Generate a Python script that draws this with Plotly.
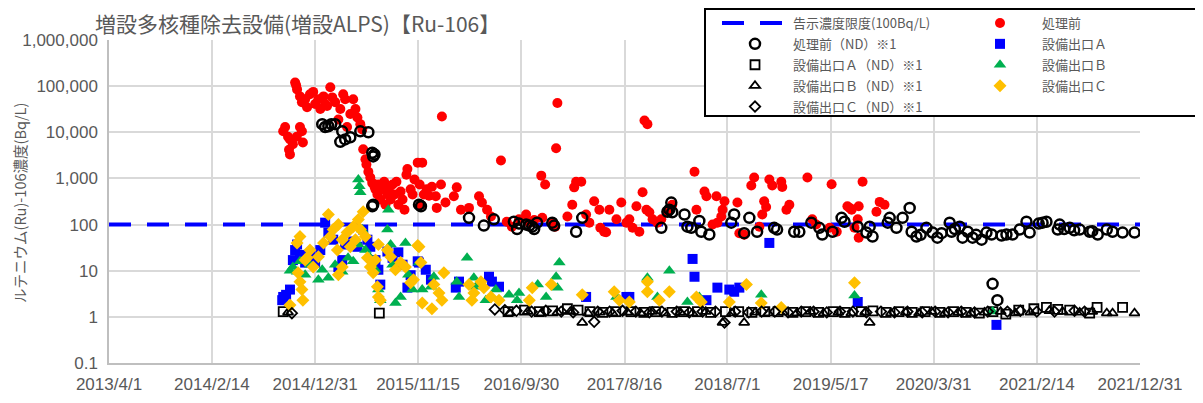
import plotly.graph_objects as go

# ---------------- axes / reference values ----------------
x_range = ["2013-04-01", "2021-12-31"]
x_tick_vals = ["2013-04-01", "2014-02-14", "2014-12-31", "2015-11-15", "2016-09-30", "2017-08-16",
               "2018-07-01", "2019-05-17", "2020-03-31", "2021-02-14", "2021-12-31"]
x_tick_text = ["2013/4/1", "2014/2/14", "2014/12/31", "2015/11/15", "2016/9/30", "2017/8/16",
               "2018/7/1", "2019/5/17", "2020/3/31", "2021/2/14", "2021/12/31"]
y_tick_vals = [0.1, 1, 10, 100, 1000, 10000, 100000, 1000000]
y_tick_text = ["0.1", "1", "10", "100", "1,000", "10,000", "100,000", "1,000,000"]

limit_dates = ["2013-04-01", "2021-12-31"]
limit_vals = [100, 100]

# ---------------- 処理前 (detected) ----------------
pre_dates = [
    "2014-09-23", "2014-09-29", "2014-10-08", "2014-10-14", "2014-10-11", "2014-10-14", "2014-10-23", "2014-11-04", "2014-11-20", "2014-11-23",
    "2014-11-14", "2014-10-30", "2014-11-02", "2014-11-05", "2014-11-14", "2014-11-20", "2014-11-30", "2014-12-06", "2014-12-15", "2014-12-25",
    "2014-12-31", "2015-01-10", "2015-01-16", "2015-01-26", "2015-01-31", "2015-02-06", "2015-02-16", "2015-02-22", "2015-03-03", "2015-03-13",
    "2015-03-19", "2015-03-28", "2015-04-03", "2015-04-09", "2015-04-19", "2015-04-28", "2015-05-05", "2015-05-11", "2015-05-20", "2015-05-26",
    "2015-05-29", "2015-06-05", "2015-06-08", "2015-06-14", "2015-06-20", "2015-06-26", "2015-07-03", "2015-07-06", "2015-07-12", "2015-07-15",
    "2015-07-21", "2015-07-27", "2015-08-02", "2015-08-06", "2015-08-12", "2015-08-18", "2015-08-22", "2015-08-28", "2015-09-03", "2015-09-09",
    "2015-09-15", "2015-09-22", "2015-09-28", "2015-10-04", "2015-10-10", "2015-10-13", "2015-10-23", "2015-10-29", "2015-11-04", "2015-11-14",
    "2015-11-20", "2015-11-24", "2015-11-28", "2015-12-03", "2015-12-12", "2015-12-19", "2015-12-28", "2016-01-09", "2016-01-12", "2016-01-25",
    "2016-01-28", "2016-02-08", "2016-03-05", "2016-03-14", "2016-03-27", "2016-04-21", "2016-05-22", "2016-05-31", "2016-06-16", "2016-06-28",
    "2016-07-29", "2016-08-16", "2016-09-01", "2016-09-23", "2016-10-15", "2016-10-25", "2016-11-09", "2016-12-01", "2016-12-04", "2016-12-13",
    "2017-01-04", "2017-01-16", "2017-01-20", "2017-01-13", "2017-02-20", "2017-03-07", "2017-03-13", "2017-03-19", "2017-04-04", "2017-04-19",
    "2017-04-29", "2017-05-14", "2017-05-30", "2017-06-02", "2017-06-14", "2017-06-20", "2017-06-30", "2017-07-22", "2017-08-06", "2017-08-22",
    "2017-08-31", "2017-09-10", "2017-09-22", "2017-10-01", "2017-10-11", "2017-10-17", "2017-10-26", "2017-10-23", "2017-11-01", "2017-11-11",
    "2017-11-26", "2017-12-08", "2017-12-27", "2018-01-11", "2018-03-21", "2018-03-27", "2018-04-21", "2018-04-27", "2018-05-16", "2018-05-28",
    "2018-05-31", "2018-06-12", "2018-06-16", "2018-06-22", "2018-08-01", "2018-08-07", "2018-08-22", "2018-09-13", "2018-09-22", "2018-10-08",
    "2018-10-17", "2018-10-23", "2018-10-29", "2018-11-08", "2018-11-17", "2018-12-15", "2018-12-18", "2018-12-31", "2019-01-09", "2019-03-06",
    "2019-03-21", "2019-04-02", "2019-05-14", "2019-05-20", "2019-06-05", "2019-07-08", "2019-07-21", "2019-07-30", "2019-08-09", "2019-08-12",
    "2019-08-12", "2019-08-24", "2019-10-06", "2019-10-16", "2019-10-31", "2019-07-15",
]
pre_vals = [
    10500, 13000, 8000, 7000, 4200, 3300, 5500, 8000, 10500, 6000,
    13000, 120000, 105000, 85000, 60000, 45000, 52000, 35000, 67000, 75000,
    41000, 52000, 32000, 60000, 41000, 37000, 95000, 57000, 45000, 19000,
    32000, 67000, 52000, 13000, 25000, 52000, 32000, 21000, 15000, 11500,
    4300, 2600, 2000, 1400, 1050, 800, 670, 580, 450, 740,
    350, 580, 850, 270, 450, 640, 350, 740, 450, 850,
    270, 520, 350, 210, 1200, 1600, 580, 450, 950, 2200,
    740, 270, 2200, 450, 580, 420, 660, 410, 230, 740,
    22000, 300, 410, 640, 210, 230, 410, 300, 210, 150,
    2450, 115, 90, 130, 165, 110, 125, 1150, 140, 740,
    110, 4500, 43000, 90, 150, 270, 640, 850, 850, 165,
    110, 320, 210, 85, 70, 68, 210, 130, 300, 110,
    130, 85, 250, 70, 500, 18000, 15000, 210, 185, 130,
    110, 130, 190, 270, 1400, 210, 520, 410, 100, 410,
    110, 150, 210, 320, 300, 65, 60, 700, 1050, 90,
    165, 320, 240, 950, 700, 850, 650, 210, 270, 1050,
    130, 100, 85, 750, 70, 250, 210, 85, 130, 250,
    52, 850, 190, 310, 270, 230,
]

# ---------------- 処理前 (ND) ----------------
pre_nd_dates = [
    "2015-01-22", "2015-01-31", "2015-02-10", "2015-02-19", "2015-03-03", "2015-03-25", "2015-03-19", "2015-04-03", "2015-04-19", "2015-05-20",
    "2015-06-14", "2015-06-26", "2015-06-29", "2015-07-03", "2015-06-26", "2015-06-29", "2015-11-18", "2015-11-24", "2016-04-21", "2016-06-06",
    "2016-07-07", "2016-09-07", "2016-09-17", "2016-09-23", "2016-10-15", "2016-10-25", "2016-11-03", "2016-11-09", "2016-11-18", "2017-01-04",
    "2017-01-10", "2017-03-19", "2017-04-07", "2017-12-08", "2017-12-27", "2018-01-02", "2018-01-08", "2018-01-11", "2018-02-18", "2018-02-27",
    "2018-03-11", "2018-04-05", "2018-04-11", "2018-05-06", "2018-07-13", "2018-07-22", "2018-08-22", "2018-09-07", "2018-10-01", "2018-11-23",
    "2018-12-02", "2019-01-24", "2019-02-09", "2019-03-18", "2019-04-12", "2019-04-21", "2019-05-23", "2019-06-20", "2019-06-29", "2019-08-09",
    "2019-09-05", "2019-09-15", "2019-09-24", "2019-11-10", "2019-11-16", "2019-12-07", "2019-12-26", "2020-01-17", "2020-01-23", "2020-02-07",
    "2020-03-09", "2020-03-28", "2020-04-12", "2020-05-20", "2020-05-26", "2020-06-20", "2020-06-29", "2020-07-15", "2020-07-30", "2020-08-27",
    "2020-09-11", "2020-09-27", "2020-09-30", "2020-10-15", "2020-11-12", "2020-12-01", "2020-12-23", "2021-01-13", "2021-01-23", "2021-03-04",
    "2021-03-16", "2021-04-20", "2021-04-26", "2021-05-27", "2021-06-27", "2021-07-28", "2021-08-22", "2021-09-19", "2021-10-07", "2021-11-07",
    "2021-12-14", "2020-02-20", "2020-04-25", "2020-06-05", "2020-08-10", "2020-10-28", "2021-02-20", "2021-05-10", "2021-06-10", "2021-08-05",
]
pre_nd_vals = [
    15000, 13000, 13500, 15000, 15000, 10500, 6200, 7000, 7800, 10500,
    10000, 3600, 3000, 3300, 250, 270, 270, 250, 140, 95,
    130, 115, 80, 105, 100, 95, 90, 80, 110, 110,
    95, 70, 140, 85, 190, 210, 300, 185, 165, 90,
    85, 120, 70, 61, 110, 165, 65, 140, 70, 85,
    78, 70, 70, 110, 85, 61, 70, 140, 115, 90,
    67, 90, 55, 110, 140, 85, 140, 230, 70, 55,
    85, 67, 52, 110, 70, 90, 52, 70, 52, 47,
    67, 61, 5.2, 2.3, 61, 61, 78, 115, 67, 110,
    115, 78, 100, 85, 78, 70, 61, 78, 70, 67,
    67, 60, 65, 80, 60, 58, 105, 80, 75, 72,
]

# ---------------- 設備出口Ａ ----------------
a_dates = [
    "2014-09-20", "2014-09-23", "2014-10-02", "2014-10-14", "2014-10-23", "2014-10-30", "2014-11-05", "2014-11-14", "2014-11-30", "2014-12-15",
    "2014-12-31", "2015-01-16", "2015-01-31", "2015-02-10", "2015-02-25", "2015-03-13", "2015-03-25", "2015-04-03", "2015-04-28", "2015-05-11",
    "2015-05-29", "2015-06-11", "2015-06-20", "2015-07-06", "2015-07-15", "2015-07-21", "2015-08-12", "2015-08-28", "2015-09-15", "2015-09-28",
    "2015-10-13", "2015-10-23", "2015-11-14", "2015-11-18", "2015-12-09", "2015-12-25", "2016-03-11", "2016-03-21", "2016-06-22", "2016-07-01",
    "2016-07-23", "2017-04-19", "2017-08-22", "2017-08-31", "2018-03-15", "2018-03-21", "2018-04-27", "2018-05-31", "2018-07-07", "2018-07-22",
    "2018-08-07", "2018-11-08", "2019-08-09", "2020-10-12",
]
a_vals = [
    2.3, 2.7, 3.0, 3.9, 17, 28, 37, 22, 15, 22,
    15, 28, 110, 67, 47, 12, 17, 37, 43, 33,
    78, 47, 33, 17, 10.5, 5, 26, 19, 25, 13.5,
    4.3, 8, 16, 15, 10.5, 6.4, 4.3, 5.8, 7.4, 5.8,
    4.5, 2.7, 2.7, 2.7, 18, 7.4, 2.3, 4.3, 3.9, 3.5,
    4.3, 40, 2.1, 0.67,
]

# ---------------- 設備出口Ｂ ----------------
b_dates = [
    "2014-10-14", "2014-10-23", "2014-11-05", "2014-11-14", "2014-11-30", "2014-12-15", "2015-01-10", "2015-01-22", "2015-02-10", "2015-03-03",
    "2015-03-25", "2015-04-12", "2015-04-28", "2015-05-14", "2015-05-14", "2015-05-17", "2015-05-20", "2015-05-26", "2015-06-05", "2015-06-20",
    "2015-07-06", "2015-07-15", "2015-07-21", "2015-08-12", "2015-08-15", "2015-08-22", "2015-08-28", "2015-09-06", "2015-09-22", "2015-10-07",
    "2015-10-16", "2015-10-29", "2015-11-18", "2015-11-28", "2016-01-03", "2015-12-25", "2016-03-14", "2016-03-21", "2016-04-15", "2016-05-06",
    "2016-05-12", "2016-06-12", "2016-07-13", "2016-08-23", "2016-09-17", "2016-09-23", "2016-12-16", "2017-01-16", "2017-01-20", "2017-01-26",
    "2017-07-22", "2017-10-26", "2017-11-26", "2018-01-02", "2018-02-27", "2018-04-05", "2018-10-14", "2019-07-30", "2020-09-30", "2016-11-20",
]
b_vals = [
    10, 12, 9.5, 16, 8.2, 13.5, 6.4, 10.5, 7, 13.5,
    9.5, 19, 16, 37, 950, 680, 500, 78, 28, 19,
    10.5, 3.9, 2.3, 78, 210, 37, 13.5, 2.0, 2.7, 40,
    8.2, 3.9, 15, 3.9, 7.4, 4.5, 5.8, 2.7, 19, 7,
    4.5, 2.3, 3.9, 3, 2.3, 3.3, 2.7, 7.4, 4.3, 15,
    2.7, 7, 2.7, 10, 2.1, 2.7, 3.0, 2.9, 1.3, 5,
]

# ---------------- 設備出口Ｃ ----------------
c_dates = [
    "2014-10-14", "2014-11-08", "2014-11-14", "2014-11-20", "2014-11-23", "2014-11-05", "2014-11-14", "2014-11-30", "2014-12-06", "2014-12-15",
    "2014-12-25", "2015-01-10", "2015-01-26", "2015-02-10", "2015-02-16", "2015-02-25", "2015-03-10", "2015-03-13", "2015-03-13", "2015-03-25",
    "2015-03-25", "2015-04-09", "2015-04-19", "2015-04-28", "2015-05-05", "2015-05-14", "2015-05-20", "2015-05-29", "2015-06-05", "2015-06-11",
    "2015-06-20", "2015-06-29", "2015-07-06", "2015-07-12", "2015-07-15", "2015-07-21", "2015-07-15", "2015-08-12", "2015-08-22", "2015-09-06",
    "2015-09-22", "2015-10-07", "2015-10-23", "2015-11-01", "2015-11-14", "2015-11-18", "2015-11-24", "2015-11-28", "2015-12-28", "2016-01-03",
    "2016-01-19", "2016-01-28", "2016-02-03", "2016-04-21", "2016-04-30", "2016-05-06", "2016-05-28", "2016-06-06", "2016-06-28", "2016-07-23",
    "2016-10-25", "2016-11-03", "2017-01-01", "2017-04-07", "2017-07-15", "2017-07-31", "2017-08-31", "2017-10-26", "2017-10-26", "2017-12-02",
    "2018-01-02", "2018-03-27", "2018-04-11", "2018-07-07", "2018-08-29", "2018-10-14", "2018-12-15", "2019-07-30",
]
c_vals = [
    1.8, 9, 5.8, 3.9, 2.3, 40, 55, 17, 19, 28,
    12, 20, 40, 165, 55, 78, 28, 100, 8.2, 47,
    12, 67, 33, 90, 47, 128, 78, 190, 55, 19,
    12, 9, 17, 4.5, 2.7, 2.3, 37, 28, 20, 10.5,
    15, 12, 5.5, 6.4, 35, 33, 15, 2.0, 1.5, 5,
    3.3, 2.3, 9, 5, 2.3, 3.3, 5.8, 4.3, 2.7, 2.3,
    2.3, 4.3, 5, 3, 3.5, 2.3, 2.1, 5.8, 3.5, 2.3,
    3.5, 2.7, 2.1, 2.1, 5, 2.0, 1.6, 5.5,
]

# ---------------- ND series (detection limit) ----------------
a_nd_dates = [
    "2014-09-23", "2015-07-18", "2016-08-20", "2016-10-10", "2016-11-25", "2017-01-05", "2017-02-20", "2017-03-25", "2017-05-01", "2017-06-10",
    "2017-07-20", "2017-09-05", "2017-10-15", "2017-11-20", "2018-01-10", "2018-02-15", "2018-03-30", "2018-05-10", "2018-06-25", "2018-08-05",
    "2018-09-15", "2018-10-25", "2018-12-05", "2019-01-20", "2019-03-01", "2019-04-10", "2019-05-25", "2019-07-01", "2019-08-20", "2019-09-25",
    "2019-11-05", "2019-12-15", "2020-01-25", "2020-03-05", "2020-04-20", "2020-06-01", "2020-07-10", "2020-08-20", "2020-10-01", "2020-11-10",
    "2020-12-20", "2021-02-05", "2021-03-16", "2021-04-20", "2021-05-27", "2021-07-28", "2021-08-20", "2021-11-07",
]
a_nd_vals = [
    1.3, 1.2, 1.3, 1.4, 1.3, 1.35, 1.5, 1.4, 1.3, 1.25,
    1.3, 1.3, 1.25, 1.3, 1.25, 1.3, 1.3, 1.25, 1.3, 1.3,
    1.25, 1.3, 1.3, 1.25, 1.3, 1.25, 1.3, 1.25, 1.3, 1.35,
    1.25, 1.3, 1.25, 1.3, 1.25, 1.3, 1.25, 1.2, 1.3, 1.15,
    1.4, 1.5, 1.6, 1.45, 1.4, 1.2, 1.6, 1.6,
]
b_nd_dates = [
    "2014-10-08", "2016-08-25", "2016-10-20", "2016-12-01", "2017-01-20", "2017-03-01", "2017-04-07", "2017-04-25", "2017-06-01", "2017-07-10",
    "2017-08-25", "2017-10-05", "2017-11-10", "2017-12-20", "2018-02-05", "2018-03-15", "2018-04-25", "2018-06-16", "2018-07-15", "2018-08-22",
    "2018-09-25", "2018-11-05", "2018-12-20", "2019-02-01", "2019-03-15", "2019-04-25", "2019-06-10", "2019-07-20", "2019-09-01", "2019-09-15",
    "2019-11-20", "2020-01-05", "2020-02-15", "2020-03-25", "2020-05-05", "2020-06-15", "2020-07-25", "2020-09-05", "2020-10-25", "2020-12-10",
    "2021-01-25", "2021-03-25", "2021-05-05", "2021-06-27", "2021-08-05", "2021-09-19", "2021-10-07", "2021-12-14",
]
b_nd_vals = [
    1.25, 1.2, 1.3, 1.2, 1.25, 1.3, 0.75, 1.2, 1.25, 1.2,
    1.25, 1.2, 1.3, 1.2, 1.25, 1.2, 1.3, 0.75, 1.2, 0.75,
    1.25, 1.2, 1.25, 1.2, 1.3, 1.2, 1.25, 1.2, 1.25, 0.75,
    1.2, 1.25, 1.2, 1.3, 1.2, 1.25, 1.2, 1.25, 1.3, 1.2,
    1.25, 1.35, 1.3, 1.25, 1.3, 1.2, 1.2, 1.2,
]
c_nd_dates = [
    "2014-10-20", "2016-07-10", "2016-08-10", "2016-09-15", "2016-11-01", "2016-12-15", "2017-02-01", "2017-03-10", "2017-05-14", "2017-05-25",
    "2017-07-01", "2017-08-10", "2017-09-20", "2017-11-01", "2017-12-10", "2018-01-25", "2018-03-05", "2018-04-15", "2018-05-25", "2018-06-22",
    "2018-07-25", "2018-09-05", "2018-10-15", "2018-11-25", "2019-01-05", "2019-02-15", "2019-03-25", "2019-05-05", "2019-06-15", "2019-07-25",
    "2019-09-05", "2019-10-20", "2019-12-01", "2020-01-10", "2020-02-25", "2020-04-05", "2020-05-15", "2020-06-25", "2020-08-05", "2020-09-15",
    "2020-11-15", "2020-12-25", "2021-02-14", "2021-04-10", "2021-06-11", "2021-07-12",
]
c_nd_vals = [
    1.2, 1.45, 1.4, 1.35, 1.3, 1.35, 1.3, 1.25, 0.78, 1.3,
    1.3, 1.35, 1.3, 1.25, 1.3, 1.3, 1.25, 1.3, 1.3, 0.75,
    1.3, 1.25, 1.3, 1.3, 1.25, 1.3, 1.3, 1.25, 1.3, 1.3,
    1.25, 1.3, 1.25, 1.3, 1.25, 1.3, 1.25, 1.3, 1.25, 1.3,
    1.3, 1.35, 1.3, 1.3, 1.35, 1.3,
]

# ---------------- styling ----------------
GRAY = "#595959"
GRID = "#D9D9D9"
JP = "Noto Sans CJK JP"
TICKFONT = dict(family="Liberation Sans, Arial", size=17, color=GRAY)

fig = go.Figure()

def add(name, x, y, legend, mode="markers", **kw):
    fig.add_trace(go.Scatter(x=x, y=y, name=name, mode=mode, legend=legend,
                             legendgroup=name, hoverinfo="x+y+name", **kw))

add("告示濃度限度(100Bq/L)", limit_dates, limit_vals, "legend", mode="lines",
    line=dict(color="#0000FF", width=4, dash="22px,16px"))
add("処理前", pre_dates, pre_vals, "legend2",
    marker=dict(symbol="circle", size=10, color="#FF0000"))
add("処理前（ND）※1", pre_nd_dates, pre_nd_vals, "legend",
    marker=dict(symbol="circle-open", size=10, color="#000000", line=dict(width=2.5)))
add("設備出口Ａ", a_dates, a_vals, "legend2",
    marker=dict(symbol="square", size=10, color="#0000FF"))
add("設備出口Ａ（ND）※1", a_nd_dates, a_nd_vals, "legend",
    marker=dict(symbol="square-open", size=9, color="#000000", line=dict(width=1.8)))
add("設備出口Ｂ", b_dates, b_vals, "legend2",
    marker=dict(symbol="triangle-up", size=11, color="#00B050"))
add("設備出口Ｂ（ND）※1", b_nd_dates, b_nd_vals, "legend",
    marker=dict(symbol="triangle-up-open", size=9, color="#000000", line=dict(width=1.8)))
add("設備出口Ｃ", c_dates, c_vals, "legend2",
    marker=dict(symbol="diamond", size=10, color="#FFC000"))
add("設備出口Ｃ（ND）※1", c_nd_dates, c_nd_vals, "legend",
    marker=dict(symbol="diamond-open", size=8, color="#000000", line=dict(width=1.8)))

# the page body adds an 8px offset, so the figure is 8px smaller and all
# screen positions below are shifted by OFF
OFF = 8
W, H = 1203 - OFF, 403 - OFF
ML, MT = 109 - OFF, 40 - OFF
PR, PB = 1140 - OFF, 363 - OFF          # plot right / bottom (figure px)
MR, MB = W - PR, H - PB
PW, PH = PR - ML, PB - MT

def sx(p):  # screen pixel -> paper x (layout helpers only)
    return (p - OFF - ML) / PW

def sy(p):
    return (PB - (p - OFF)) / PH

fig.update_layout(
    width=W, height=H,
    margin=dict(l=ML, r=MR, t=MT, b=MB, autoexpand=False),
    paper_bgcolor="white", plot_bgcolor="white",
    font=dict(family=JP, color=GRAY),
    title=dict(text="増設多核種除去設備(増設ALPS)【Ru-106】", xref="container", x=(95 - OFF) / W, xanchor="left",
               yref="container", y=1 - (25 - OFF) / H, yanchor="middle",
               font=dict(family=JP, size=21, color=GRAY)),
    xaxis=dict(type="date", range=x_range, tickvals=x_tick_vals, ticktext=x_tick_text,
               showgrid=True, gridcolor=GRID, gridwidth=1.5, zeroline=False,
               showline=True, linecolor="#BFBFBF", linewidth=1.5, ticks="",
               tickfont=TICKFONT, ticklabelstandoff=5),
    yaxis=dict(type="log", range=[-1, 6], tickvals=y_tick_vals, ticktext=y_tick_text,
               showgrid=True, gridcolor=GRID, gridwidth=1.5, zeroline=False,
               showline=True, linecolor="#BFBFBF", linewidth=1.5, ticks="",
               tickfont=TICKFONT, ticklabelstandoff=6),
    showlegend=True,
    legend=dict(xref="paper", x=sx(717), xanchor="left", yref="container", y=1.0, yanchor="top",
                orientation="v", bgcolor="rgba(0,0,0,0)", borderwidth=0, itemwidth=66,
                tracegroupgap=1.0, font=dict(family=JP, size=13, color=GRAY)),
    legend2=dict(xref="paper", x=sx(958), xanchor="left", yref="container", y=1.0, yanchor="top",
                 orientation="v", bgcolor="rgba(0,0,0,0)", borderwidth=0, itemwidth=74,
                 tracegroupgap=1.0, font=dict(family=JP, size=13, color=GRAY)),
    shapes=[dict(type="rect", xref="paper", yref="paper",
                 x0=sx(705), x1=sx(1198), y0=sy(116), y1=sy(9),
                 line=dict(color="black", width=2), fillcolor="white", layer="above")],
    annotations=[dict(text="ルテニウム(Ru)-106濃度(Bq/L)", textangle=-90, xref="paper", yref="paper",
                      x=sx(19), y=sy(203), xanchor="center", yanchor="middle", showarrow=False,
                      font=dict(family=JP, size=14.5, color=GRAY))],
)

fig.write_html("out.html")
